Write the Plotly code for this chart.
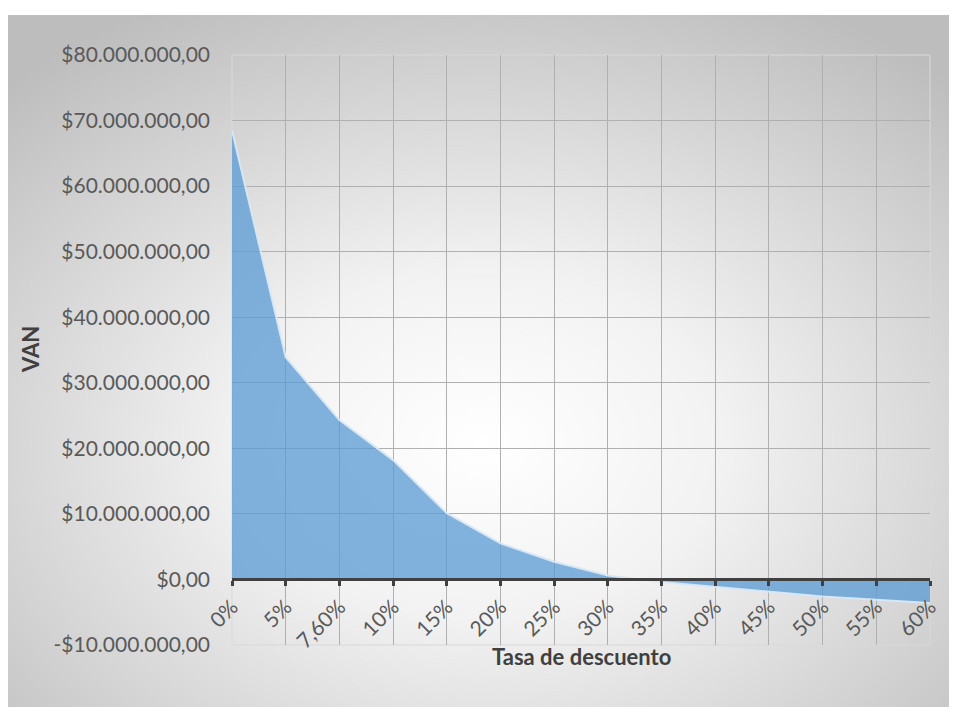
import base64
import plotly.graph_objects as go

# ---- data ----
rates = ["0%", "5%", "7,60%", "10%", "15%", "20%", "25%", "30%",
         "35%", "40%", "45%", "50%", "55%", "60%"]
van = [68.5e6, 33.9e6, 24.3e6, 18.2e6, 10.1e6, 5.5e6, 2.7e6, 0.6e6,
       -0.4e6, -1.1e6, -1.9e6, -2.6e6, -3.1e6, -3.6e6]
y_tickvals = [-10e6, 0, 10e6, 20e6, 30e6, 40e6, 50e6, 60e6, 70e6, 80e6]
y_ticktext = ["-$10.000.000,00", "$0,00", "$10.000.000,00", "$20.000.000,00",
              "$30.000.000,00", "$40.000.000,00", "$50.000.000,00",
              "$60.000.000,00", "$70.000.000,00", "$80.000.000,00"]
x_title = "Tasa de descuento"
y_title = "VAN"

# page has an 8px body margin, so the figure is sized to fill the rest
W, H = 949, 699
L, R, T, B = 224, 27, 47, 62
pw, ph = W - L - R, H - T - B
TOP_BG = 7  # white strip above chart background

FONT = "Lato"

svg = ("<svg xmlns='http://www.w3.org/2000/svg' width='949' height='692'>"
       "<defs><radialGradient id='g' cx='50%' cy='62%' r='72%'>"
       "<stop offset='0' stop-color='#ffffff'/>"
       "<stop offset='0.35' stop-color='#f2f2f2'/>"
       "<stop offset='1' stop-color='#bdbdbd'/>"
       "</radialGradient></defs>"
       "<rect width='949' height='692' fill='url(#g)'/></svg>")
src = "data:image/svg+xml;base64," + base64.b64encode(svg.encode()).decode()

fig = go.Figure()
fig.add_trace(go.Scatter(
    x=rates, y=van, mode="lines", fill="tozeroy",
    fillcolor="rgba(91,155,213,0.76)",
    line=dict(color="rgba(215,232,247,0.95)", width=2),
    hoverinfo="x+y", showlegend=False,
))

ymin, ymax = -10e6, 80e6
fig.update_layout(
    width=W, height=H,
    margin=dict(l=L, r=R, t=T, b=B, pad=0),
    paper_bgcolor="white",
    plot_bgcolor="white",
    font=dict(family=FONT, color="#595959", size=21),
    xaxis=dict(
        type="category", range=[0, len(rates) - 1],
        anchor="free", position=(0 - ymin) / (ymax - ymin),
        showline=True, linecolor="#404040", linewidth=3,
        ticks="outside", ticklen=5, tickwidth=3, tickcolor="#404040",
        tickangle=-45, tickfont=dict(size=21, color="#595959"),
        showgrid=True, gridcolor="#b0b0b0", gridwidth=1,
        zeroline=False,
    ),
    yaxis=dict(
        range=[ymin, ymax], tickvals=y_tickvals, ticktext=y_ticktext,
        showgrid=True, gridcolor="#b0b0b0", gridwidth=1,
        zeroline=False, showline=False, ticks="",
        ticklabelstandoff=21,
        tickfont=dict(size=21, color="#595959"),
    ),
    images=[dict(
        source=src, xref="paper", yref="paper",
        x=(0 - L) / pw, y=1 + (T - TOP_BG) / ph,
        sizex=W / pw, sizey=(H - TOP_BG) / ph,
        xanchor="left", yanchor="top", sizing="stretch", layer="below",
    )],
    shapes=[dict(
        type="rect", xref="paper", yref="paper", x0=0, x1=1, y0=0, y1=1,
        line=dict(color="#d9d9d9", width=1), layer="below",
    )],
    annotations=[
        dict(text="<b>" + y_title + "</b>", xref="paper", yref="paper",
             x=(22 - L) / pw, y=((H - B) - 342) / ph, textangle=-90,
             showarrow=False, font=dict(size=22, color="#404040"),
             xanchor="center", yanchor="middle"),
        dict(text="<b>" + x_title + "</b>", xref="paper", yref="paper",
             x=(573 - L) / pw, y=((H - B) - 649) / ph,
             showarrow=False, font=dict(size=22, color="#404040"),
             xanchor="center", yanchor="middle"),
    ],
)

fig.write_html("out.html")
